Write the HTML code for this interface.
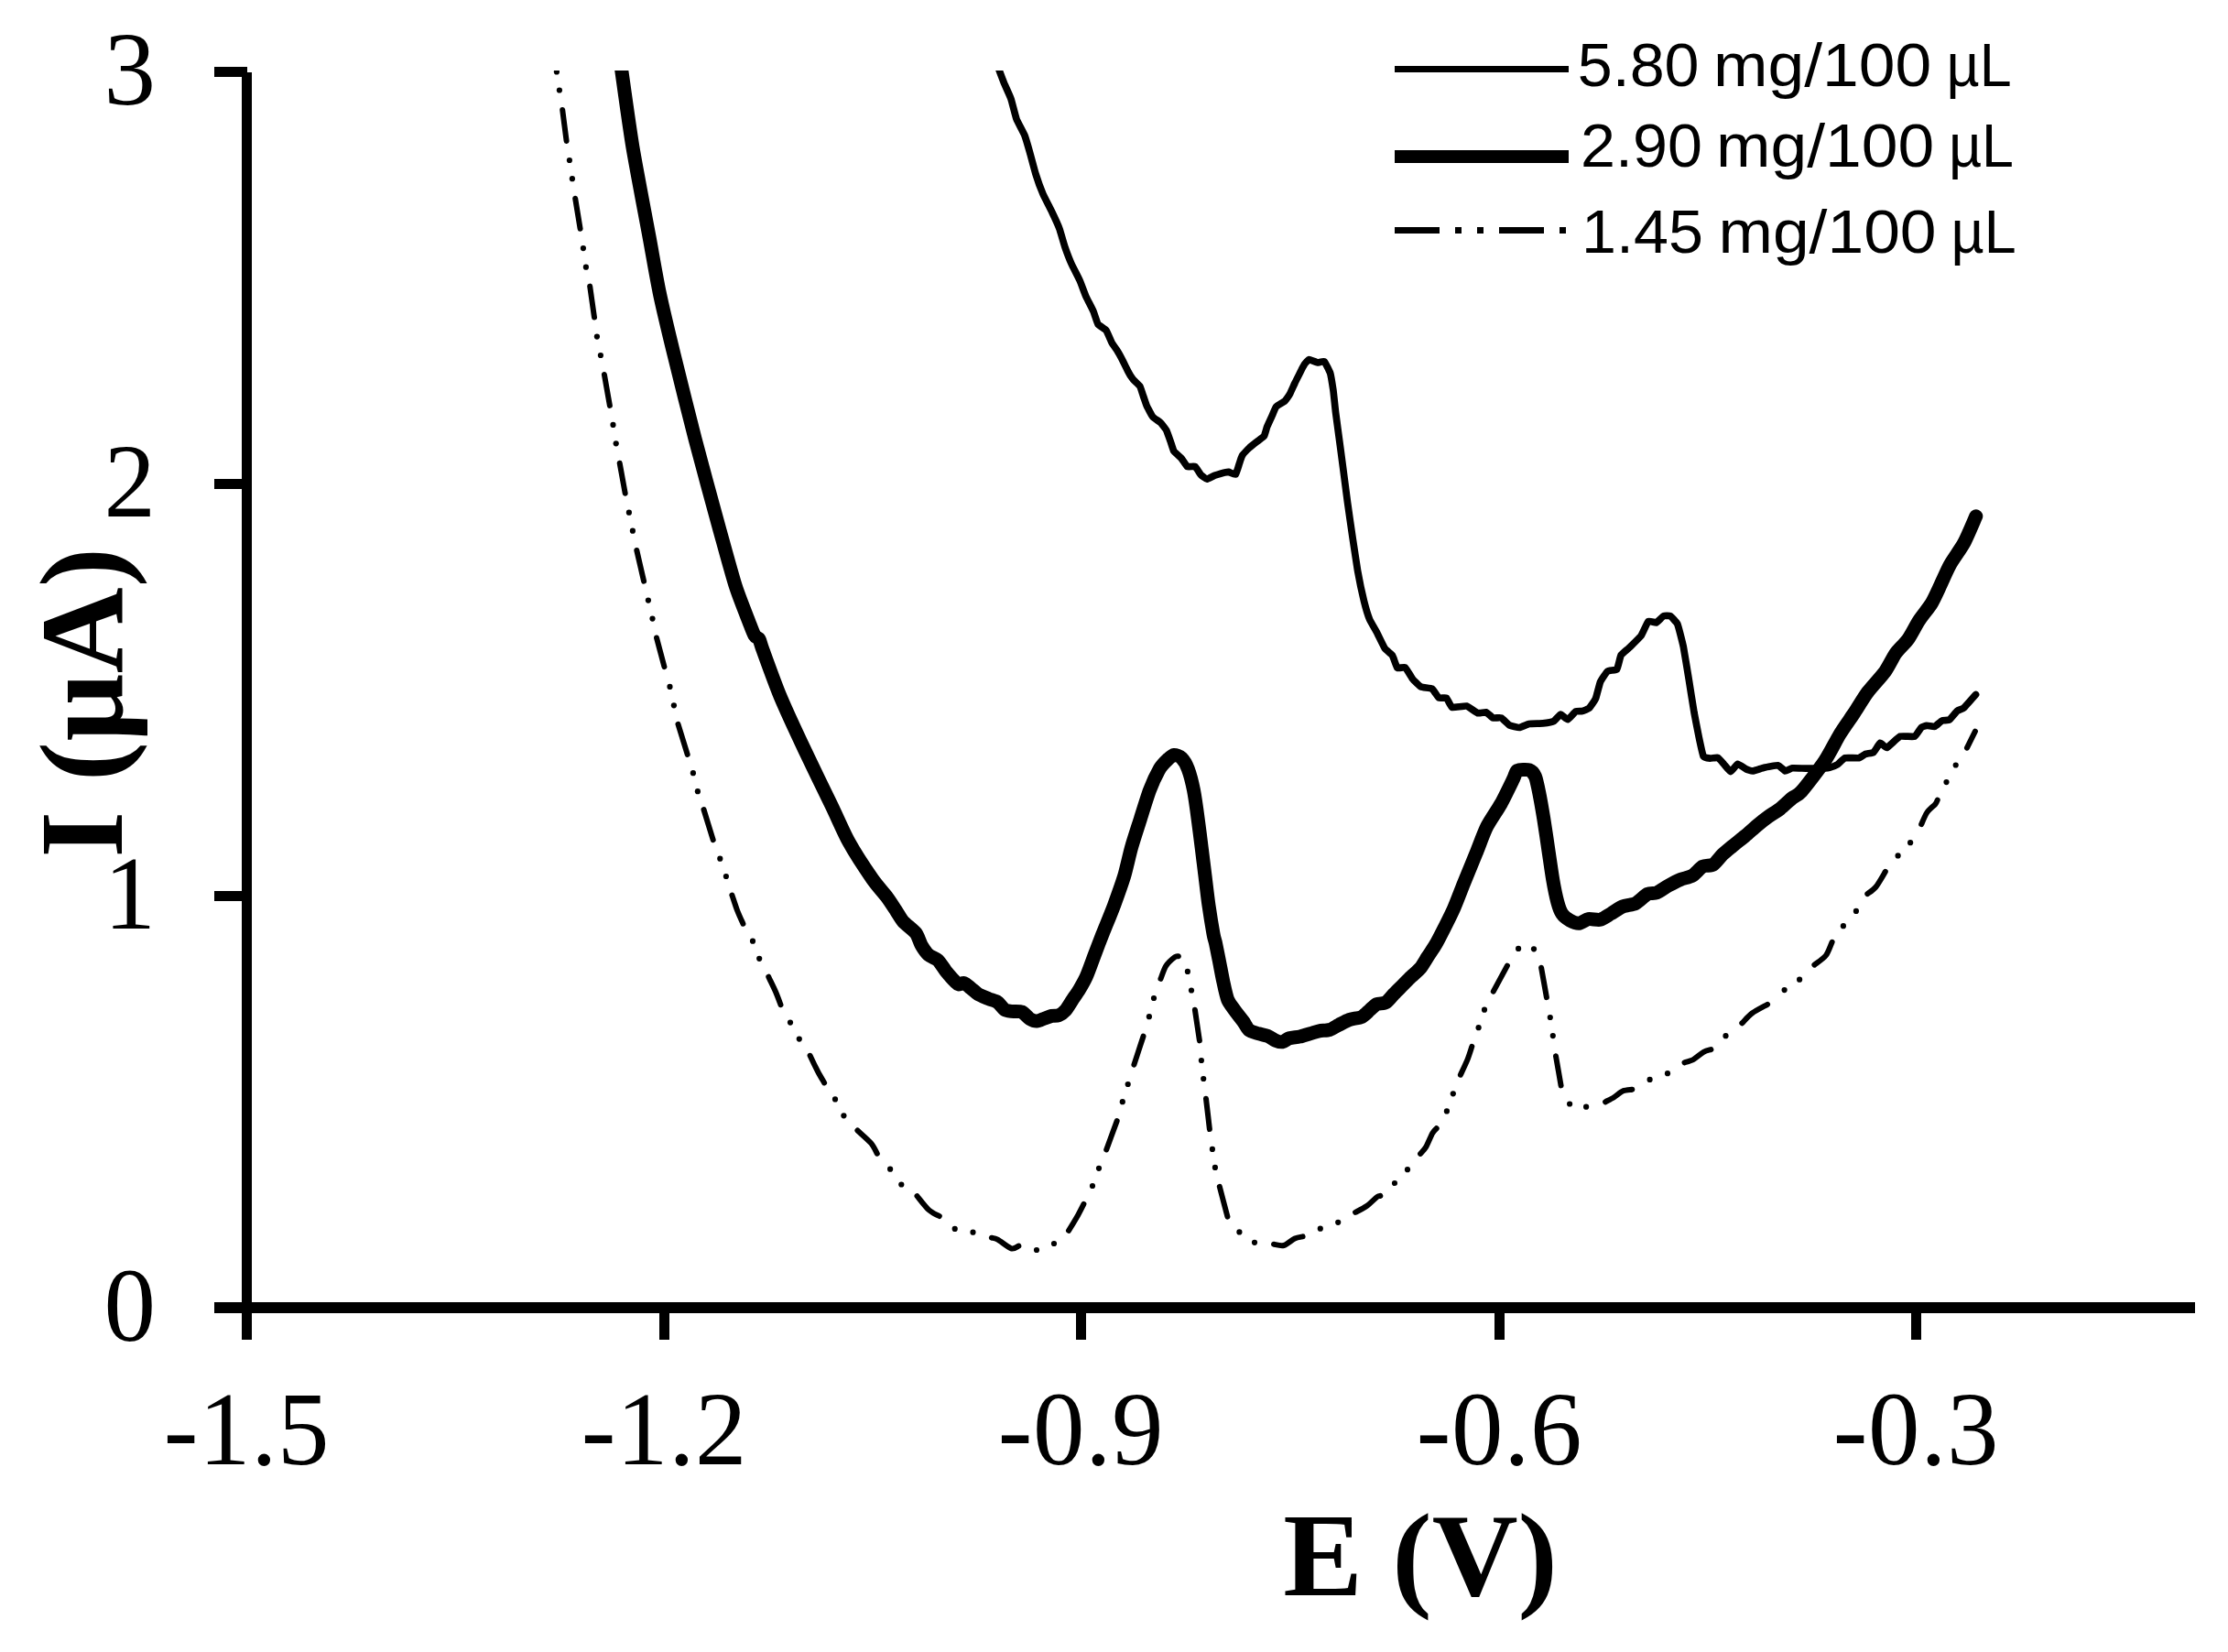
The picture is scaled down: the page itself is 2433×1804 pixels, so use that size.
<!DOCTYPE html>
<html lang="en"><head><meta charset="utf-8"><title>Voltammogram</title>
<style>html,body{margin:0;padding:0;background:#fff;overflow:hidden}svg{display:block}</style></head>
<body>
<svg width="2433" height="1804" viewBox="0 0 2433 1804">
<rect width="2433" height="1804" fill="#fff"/>
<defs><clipPath id="plot"><rect x="275" y="77" width="2150" height="1346"/></clipPath></defs>
<g stroke="#000" fill="none" stroke-linecap="butt" shape-rendering="crispEdges">
<line x1="269.5" y1="78.5" x2="269.5" y2="1463.0" stroke-width="11.0"/>
<line x1="234.0" y1="1428.0" x2="2396.6" y2="1428.0" stroke-width="12.0"/>
<line x1="234.0" y1="78.5" x2="270.0" y2="78.5" stroke-width="11"/>
<line x1="234.0" y1="528.5" x2="270.0" y2="528.5" stroke-width="11"/>
<line x1="234.0" y1="978.5" x2="270.0" y2="978.5" stroke-width="11"/>
<line x1="725.5" y1="1428.0" x2="725.5" y2="1463.0" stroke-width="11"/>
<line x1="1180.5" y1="1428.0" x2="1180.5" y2="1463.0" stroke-width="11"/>
<line x1="1637.5" y1="1428.0" x2="1637.5" y2="1463.0" stroke-width="11"/>
<line x1="2092.5" y1="1428.0" x2="2092.5" y2="1463.0" stroke-width="11"/>
</g>
<g font-family="'Liberation Serif', 'Times New Roman', serif" font-size="113" fill="#000">
<text transform="translate(170.0 114.0) scale(1 1.015)" text-anchor="end">3</text>
<text transform="translate(170.0 564.0) scale(1 1.015)" text-anchor="end">2</text>
<text transform="translate(170.0 1014.0) scale(1 1.015)" text-anchor="end">1</text>
<text transform="translate(170.0 1464.0) scale(1 1.015)" text-anchor="end">0</text>
<text transform="translate(269.5 1598.7) scale(1 1.015)" text-anchor="middle" letter-spacing="0.6">-1.5</text>
<text transform="translate(725.5 1598.7) scale(1 1.015)" text-anchor="middle" letter-spacing="0.6">-1.2</text>
<text transform="translate(1180.5 1598.7) scale(1 1.015)" text-anchor="middle" letter-spacing="0.6">-0.9</text>
<text transform="translate(1637.5 1598.7) scale(1 1.015)" text-anchor="middle" letter-spacing="0.6">-0.6</text>
<text transform="translate(2092.5 1598.7) scale(1 1.015)" text-anchor="middle" letter-spacing="0.6">-0.3</text>
</g>
<g font-family="'Liberation Serif', 'Times New Roman', serif" font-weight="bold" font-size="130" fill="#000">
<text x="1551" y="1741.8" text-anchor="middle">E (V)</text>
<text transform="translate(132.7 767.2) rotate(-90)" text-anchor="middle">I (µA)</text>
</g>
<g stroke="#000" fill="none" shape-rendering="crispEdges">
<line x1="1523" y1="75.5" x2="1713" y2="75.5" stroke-width="7"/>
<line x1="1523" y1="171" x2="1713" y2="171" stroke-width="14"/>
<path d="M1523 251.5H1572M1589 251.5h7M1613 251.5h7M1637 251.5H1686M1703 251.5h7" stroke-width="7"/>
</g>
<g font-family="'Liberation Sans', Arial, sans-serif" font-size="66" fill="#000">
<text y="93.8"><tspan x="1722.7" textLength="132.9" lengthAdjust="spacingAndGlyphs">5.80</tspan> <tspan x="1871.0" textLength="238.2" lengthAdjust="spacingAndGlyphs">mg/100</tspan> <tspan x="2125.6" textLength="71.1" lengthAdjust="spacingAndGlyphs">µL</tspan></text>
<text y="181.7"><tspan x="1726.0" textLength="132.9" lengthAdjust="spacingAndGlyphs">2.90</tspan> <tspan x="1874.0" textLength="238.2" lengthAdjust="spacingAndGlyphs">mg/100</tspan> <tspan x="2127.9" textLength="71.1" lengthAdjust="spacingAndGlyphs">µL</tspan></text>
<text y="275.9"><tspan x="1727.0" textLength="132.9" lengthAdjust="spacingAndGlyphs">1.45</tspan> <tspan x="1876.4" textLength="238.2" lengthAdjust="spacingAndGlyphs">mg/100</tspan> <tspan x="2130.5" textLength="71.1" lengthAdjust="spacingAndGlyphs">µL</tspan></text>
</g>
<g clip-path="url(#plot)" stroke="#000" fill="none" stroke-linejoin="round" stroke-linecap="round">
<path d="M677.8 70.0 C679.4 80.8 687.0 137.1 690.8 159.9 C694.6 182.7 705.7 240.5 709.2 259.7 C712.7 278.9 717.0 304.2 720.2 319.6 C723.4 335.0 731.5 368.8 736.2 388.0 C740.9 407.2 753.2 456.9 759.2 479.9 C765.2 502.9 780.9 560.5 786.2 579.7 C791.5 598.9 799.3 627.6 803.1 639.6 C806.9 651.6 815.6 673.1 818.1 679.6 C820.6 686.1 822.7 691.8 824.0 694.0 C825.3 696.2 827.9 696.1 829.0 698.0 C830.1 699.9 830.4 702.6 833.1 710.0 C835.8 717.4 846.3 746.7 851.8 759.9 C857.3 773.1 872.3 805.4 879.1 819.8 C885.9 834.2 902.3 867.7 908.1 879.7 C913.9 891.7 921.8 910.1 927.1 919.7 C932.4 929.3 947.5 952.4 952.5 959.6 C957.5 966.8 965.6 975.7 968.8 980.0 C972.0 984.3 976.8 991.9 978.9 995.1 C981.0 998.3 983.8 1003.5 986.4 1006.4 C989.0 1009.3 997.8 1015.8 1000.2 1019.0 C1002.6 1022.2 1004.8 1029.9 1006.5 1032.8 C1008.2 1035.7 1011.9 1040.9 1014.0 1042.8 C1016.1 1044.7 1021.8 1046.4 1024.1 1048.5 C1026.4 1050.6 1030.6 1057.6 1032.9 1060.4 C1035.2 1063.2 1041.2 1070.0 1042.9 1071.7 C1044.6 1073.4 1045.5 1074.7 1046.7 1074.9 C1047.9 1075.1 1051.3 1073.1 1053.0 1073.6 C1054.7 1074.1 1058.7 1077.9 1060.5 1079.3 C1062.3 1080.7 1065.8 1084.2 1068.1 1085.6 C1070.4 1087.0 1076.8 1089.5 1079.4 1090.6 C1082.0 1091.7 1087.3 1093.0 1089.4 1094.4 C1091.5 1095.8 1095.2 1101.3 1097.0 1102.5 C1098.8 1103.7 1102.2 1104.1 1104.5 1104.4 C1106.8 1104.7 1113.4 1104.0 1115.8 1105.0 C1118.2 1106.0 1122.6 1111.4 1124.6 1112.6 C1126.6 1113.8 1130.2 1115.2 1132.2 1115.1 C1134.2 1115.0 1139.0 1112.7 1141.0 1112.0 C1143.0 1111.3 1146.7 1109.8 1148.5 1109.4 C1150.3 1109.0 1154.2 1109.5 1156.0 1108.8 C1157.8 1108.1 1161.8 1105.2 1163.6 1103.2 C1165.4 1101.2 1169.3 1094.6 1171.1 1091.9 C1172.9 1089.2 1176.9 1083.5 1178.7 1080.5 C1180.5 1077.5 1184.2 1071.1 1186.2 1066.7 C1188.2 1062.3 1192.9 1049.1 1195.0 1043.5 C1197.1 1037.9 1201.3 1026.9 1203.9 1020.3 C1206.5 1013.7 1213.7 996.4 1216.5 988.8 C1219.3 981.2 1225.2 964.8 1227.5 957.3 C1229.8 949.8 1233.3 933.4 1235.4 925.9 C1237.5 918.4 1242.9 902.0 1245.3 894.4 C1247.7 886.8 1253.0 869.5 1255.5 862.9 C1258.0 856.3 1264.2 843.3 1266.5 839.3 C1268.8 835.3 1273.1 831.3 1275.0 829.5 C1276.9 827.7 1280.2 824.6 1282.0 824.4 C1283.8 824.2 1288.3 825.7 1290.1 827.5 C1291.9 829.3 1295.6 835.1 1297.2 839.3 C1298.8 843.5 1302.2 856.3 1303.5 862.9 C1304.8 869.5 1307.2 886.8 1308.2 894.4 C1309.2 902.0 1311.3 918.4 1312.2 925.9 C1313.1 933.4 1315.2 949.8 1316.1 957.3 C1317.0 964.8 1318.9 981.2 1320.0 988.8 C1321.1 996.4 1324.2 1015.4 1325.1 1020.3 C1326.0 1025.2 1326.8 1026.6 1327.5 1030.0 C1328.2 1033.4 1330.3 1043.9 1331.3 1048.9 C1332.3 1053.9 1334.6 1066.4 1335.7 1071.5 C1336.8 1076.6 1339.1 1087.7 1340.7 1091.6 C1342.3 1095.5 1346.9 1101.2 1348.9 1104.1 C1350.9 1107.0 1355.9 1113.0 1357.7 1115.5 C1359.5 1118.0 1362.0 1123.3 1364.0 1124.9 C1366.0 1126.5 1371.6 1127.9 1374.0 1128.7 C1376.4 1129.5 1381.8 1130.3 1384.1 1131.2 C1386.4 1132.1 1390.9 1135.4 1392.9 1136.2 C1394.9 1137.0 1398.6 1138.1 1400.4 1137.8 C1402.2 1137.5 1405.7 1134.4 1408.0 1133.7 C1410.3 1133.0 1416.6 1132.6 1419.3 1132.0 C1422.0 1131.4 1428.0 1129.4 1430.6 1128.7 C1433.2 1128.0 1438.0 1126.3 1440.6 1125.8 C1443.2 1125.3 1449.4 1125.3 1452.0 1124.5 C1454.6 1123.7 1459.4 1120.5 1462.0 1119.2 C1464.6 1117.9 1470.3 1114.7 1473.3 1113.6 C1476.3 1112.5 1484.4 1111.7 1487.1 1110.4 C1489.8 1109.1 1493.9 1104.6 1495.9 1102.9 C1497.9 1101.2 1501.4 1097.6 1503.5 1096.6 C1505.6 1095.6 1511.2 1096.1 1513.5 1094.7 C1515.8 1093.3 1520.2 1087.5 1522.3 1085.3 C1524.4 1083.1 1528.8 1078.8 1531.1 1076.5 C1533.4 1074.2 1538.8 1068.7 1541.2 1066.4 C1543.6 1064.1 1549.1 1059.6 1551.2 1057.0 C1553.3 1054.4 1557.0 1047.9 1558.8 1045.1 C1560.6 1042.3 1564.8 1036.2 1566.3 1033.8 C1567.8 1031.4 1568.9 1029.5 1571.4 1024.7 C1573.9 1019.9 1583.6 1000.9 1586.9 993.7 C1590.2 986.5 1595.5 972.0 1598.5 964.6 C1601.5 957.2 1609.0 939.1 1612.0 931.7 C1615.0 924.3 1620.4 909.2 1623.7 902.7 C1627.0 896.2 1635.7 883.8 1639.2 877.5 C1642.7 871.2 1650.6 854.7 1652.7 850.4 C1654.8 846.1 1654.9 842.6 1657.0 841.5 C1659.1 840.4 1667.7 840.1 1670.0 840.9 C1672.3 841.7 1675.2 845.0 1676.5 848.0 C1677.8 851.0 1679.7 860.5 1680.8 865.9 C1681.9 871.3 1684.3 885.1 1685.6 893.0 C1686.9 900.9 1690.2 923.7 1691.4 931.8 C1692.6 939.9 1694.6 954.1 1695.7 960.5 C1696.8 966.9 1699.6 980.5 1700.8 985.0 C1702.0 989.5 1704.2 995.5 1705.8 997.9 C1707.4 1000.3 1712.2 1003.9 1714.4 1005.1 C1716.6 1006.3 1722.1 1008.4 1724.5 1008.2 C1726.9 1008.0 1731.7 1004.1 1734.5 1003.6 C1737.3 1003.1 1744.6 1005.0 1747.5 1004.3 C1750.4 1003.6 1756.0 999.6 1758.9 997.9 C1761.8 996.2 1768.6 991.4 1771.9 990.0 C1775.2 988.6 1782.9 988.0 1786.2 986.4 C1789.5 984.8 1796.4 977.7 1799.2 976.3 C1802.0 974.9 1806.5 976.0 1809.2 974.9 C1811.9 973.8 1819.0 968.7 1822.1 967.0 C1825.2 965.3 1832.0 961.8 1835.1 960.5 C1838.2 959.2 1845.1 957.9 1848.0 956.2 C1850.9 954.5 1856.7 947.7 1859.5 946.2 C1862.3 944.7 1868.4 945.6 1871.0 944.0 C1873.6 942.4 1878.6 935.5 1881.0 933.2 C1883.4 930.9 1888.2 927.0 1891.1 924.6 C1894.0 922.2 1902.1 915.8 1905.4 913.1 C1908.7 910.4 1915.3 904.3 1918.4 901.7 C1921.5 899.1 1928.2 893.8 1931.3 891.6 C1934.4 889.4 1941.1 885.4 1944.2 883.0 C1947.3 880.6 1954.3 873.7 1957.1 871.5 C1959.9 869.3 1963.0 869.1 1967.2 864.3 C1971.4 859.5 1987.5 838.7 1992.5 831.2 C1997.5 823.7 2005.2 808.3 2009.0 802.0 C2012.8 795.7 2020.8 784.6 2024.5 779.0 C2028.2 773.4 2035.6 761.0 2039.7 755.6 C2043.8 750.2 2054.6 738.7 2058.3 733.6 C2062.0 728.5 2067.2 717.5 2070.2 713.2 C2073.2 708.9 2080.7 702.3 2083.7 698.0 C2086.7 693.7 2092.5 682.3 2095.6 677.6 C2098.7 672.9 2106.6 663.3 2109.2 659.0 C2111.8 654.7 2115.2 647.1 2117.6 642.0 C2120.0 636.9 2126.2 622.5 2129.5 616.6 C2132.8 610.7 2141.3 599.2 2144.7 592.9 C2148.1 586.6 2156.2 567.2 2157.8 563.7" stroke-width="15"/>
<path d="M1088.5 70.0 C1088.7 70.4 1090.9 76.1 1091.4 77.4 C1091.9 78.7 1096.2 90.2 1097.0 92.0 C1097.8 93.8 1103.2 105.7 1104.0 108.0 C1104.8 110.3 1109.1 127.6 1110.0 130.0 C1110.9 132.4 1118.1 145.7 1119.0 148.0 C1119.9 150.3 1124.3 165.5 1125.0 168.0 C1125.7 170.5 1130.2 187.4 1131.0 190.0 C1131.8 192.6 1137.9 209.5 1139.0 212.0 C1140.1 214.5 1147.9 229.7 1149.0 232.0 C1150.1 234.3 1156.2 247.7 1157.0 250.0 C1157.8 252.3 1162.2 267.7 1163.0 270.0 C1163.8 272.3 1169.0 285.8 1170.0 288.0 C1171.0 290.2 1178.0 303.8 1179.0 306.0 C1180.0 308.2 1185.1 322.0 1186.0 324.0 C1186.9 326.0 1193.2 338.2 1194.0 340.0 C1194.8 341.8 1198.2 352.8 1199.0 354.0 C1199.8 355.2 1207.1 359.5 1208.0 360.7 C1208.9 361.9 1213.3 372.7 1214.0 374.0 C1214.7 375.3 1219.2 381.7 1220.0 382.9 C1220.8 384.1 1225.8 393.4 1226.5 394.8 C1227.2 396.2 1231.2 404.3 1231.8 405.5 C1232.4 406.7 1236.4 413.2 1237.2 414.2 C1238.0 415.2 1244.1 420.6 1244.8 421.7 C1245.5 422.8 1248.0 431.2 1248.5 432.5 C1249.0 433.8 1251.7 441.9 1252.3 443.3 C1252.9 444.7 1257.9 454.0 1258.8 455.1 C1259.7 456.2 1266.5 460.7 1267.4 461.6 C1268.3 462.5 1273.3 469.0 1273.9 470.2 C1274.5 471.4 1277.7 480.6 1278.2 482.0 C1278.7 483.4 1281.2 491.7 1281.9 492.8 C1282.6 493.9 1289.1 499.3 1290.0 500.3 C1290.9 501.3 1295.6 508.9 1296.5 509.5 C1297.4 510.1 1304.2 508.9 1305.1 509.5 C1306.0 510.1 1310.8 517.9 1311.6 518.7 C1312.4 519.5 1317.1 523.2 1318.0 523.2 C1318.9 523.2 1325.4 519.6 1326.6 519.2 C1327.8 518.8 1336.5 516.2 1337.4 516.0 C1338.3 515.8 1341.0 515.3 1341.7 515.4 C1342.4 515.5 1348.6 518.7 1349.3 518.1 C1350.0 517.5 1353.1 507.0 1353.6 505.7 C1354.0 504.4 1356.2 498.1 1356.8 497.1 C1357.4 496.1 1363.3 489.9 1364.3 489.0 C1365.3 488.1 1372.0 482.8 1373.0 482.0 C1374.0 481.2 1379.9 477.1 1380.5 476.1 C1381.1 475.1 1383.2 467.2 1383.7 465.9 C1384.2 464.6 1388.5 455.3 1389.1 454.0 C1389.7 452.7 1392.6 445.3 1393.4 444.3 C1394.2 443.3 1402.2 438.7 1403.1 437.9 C1404.0 437.1 1407.9 431.5 1408.5 430.3 C1409.1 429.1 1413.2 420.0 1413.9 418.5 C1414.6 417.0 1419.8 406.8 1420.4 405.5 C1421.0 404.2 1424.2 398.3 1424.7 397.5 C1425.2 396.7 1428.7 392.7 1429.5 392.6 C1430.3 392.5 1437.7 395.8 1438.7 395.9 C1439.7 396.0 1445.4 394.1 1446.2 394.8 C1447.0 395.5 1452.1 405.8 1452.7 407.7 C1453.3 409.6 1455.5 423.4 1455.9 426.0 C1456.3 428.6 1458.1 446.9 1458.6 450.8 C1459.1 454.7 1463.1 484.4 1463.9 490.2 C1464.7 496.0 1470.6 541.7 1471.4 547.7 C1472.2 553.7 1476.8 585.6 1477.5 590.1 C1478.2 594.6 1481.9 619.4 1482.6 623.4 C1483.3 627.4 1488.8 653.5 1489.6 656.7 C1490.4 659.9 1494.8 674.4 1495.6 676.4 C1496.4 678.4 1502.2 688.1 1503.2 690.0 C1504.2 691.9 1511.3 706.7 1512.3 708.2 C1513.3 709.7 1519.7 714.4 1520.5 715.7 C1521.3 717.0 1525.1 728.6 1525.9 729.4 C1526.7 730.2 1533.4 728.1 1534.4 728.8 C1535.4 729.5 1541.6 740.2 1542.6 741.5 C1543.6 742.8 1550.4 749.4 1551.7 750.0 C1553.0 750.6 1562.6 751.4 1563.8 752.1 C1565.0 752.8 1570.4 761.5 1571.3 762.1 C1572.2 762.7 1578.6 761.5 1579.5 762.1 C1580.4 762.7 1584.3 771.9 1585.6 772.4 C1586.9 772.9 1599.9 770.7 1601.6 771.1 C1603.3 771.5 1612.4 778.3 1613.7 778.7 C1615.0 779.1 1621.8 777.5 1622.8 777.8 C1623.8 778.1 1629.4 783.5 1630.4 783.9 C1631.4 784.3 1638.4 783.4 1639.5 783.9 C1640.6 784.4 1647.3 791.4 1648.5 792.0 C1649.7 792.6 1657.8 794.6 1659.1 794.5 C1660.4 794.4 1668.2 790.8 1669.7 790.5 C1671.2 790.2 1683.3 790.1 1684.9 789.9 C1686.5 789.7 1695.6 788.1 1696.8 787.5 C1698.0 786.9 1703.3 780.3 1704.2 780.2 C1705.1 780.1 1711.0 785.9 1712.0 785.7 C1713.0 785.5 1719.7 777.5 1720.7 777.0 C1721.7 776.5 1727.0 776.8 1727.9 776.6 C1728.8 776.4 1734.3 774.2 1735.2 773.4 C1736.1 772.6 1741.8 764.5 1742.5 762.8 C1743.2 761.1 1746.8 746.4 1747.6 744.6 C1748.4 742.8 1754.4 733.8 1755.5 733.0 C1756.6 732.2 1764.8 731.8 1765.7 730.8 C1766.6 729.8 1769.3 716.9 1770.1 715.5 C1770.9 714.1 1777.5 708.9 1778.8 707.6 C1780.1 706.3 1790.6 696.2 1791.9 694.5 C1793.2 692.8 1798.9 679.4 1799.9 678.5 C1800.9 677.6 1807.6 680.3 1808.6 680.0 C1809.6 679.7 1815.7 673.1 1816.6 672.7 C1817.5 672.3 1822.9 672.2 1823.8 672.7 C1824.7 673.2 1830.9 679.4 1831.8 681.4 C1832.7 683.4 1837.7 703.2 1838.4 706.8 C1839.1 710.4 1843.5 737.4 1844.2 741.7 C1844.9 746.0 1849.3 774.2 1850.0 778.0 C1850.7 781.8 1854.5 801.3 1855.1 804.2 C1855.7 807.1 1859.5 824.6 1860.2 826.0 C1860.9 827.4 1866.4 828.0 1867.4 828.1 C1868.4 828.2 1875.2 827.0 1876.1 827.4 C1877.0 827.8 1881.9 833.8 1882.7 834.7 C1883.5 835.6 1889.0 842.7 1889.9 842.7 C1890.8 842.7 1896.6 834.4 1897.6 834.2 C1898.6 834.0 1905.6 839.3 1906.6 839.8 C1907.6 840.3 1912.7 842.0 1913.9 841.9 C1915.1 841.8 1924.7 838.7 1926.4 838.3 C1928.1 837.9 1940.3 835.6 1941.7 835.8 C1943.1 836.0 1948.4 841.7 1949.3 841.9 C1950.2 842.1 1956.0 839.0 1957.3 838.8 C1958.6 838.6 1970.1 839.1 1971.8 839.1 C1973.5 839.1 1984.7 839.3 1986.3 839.3 C1987.9 839.3 1996.7 838.6 1997.9 838.3 C1999.1 838.0 2005.7 835.3 2006.7 834.7 C2007.7 834.1 2013.3 828.1 2014.7 827.7 C2016.1 827.3 2028.6 828.0 2029.9 827.7 C2031.2 827.4 2036.2 823.8 2037.2 823.4 C2038.2 823.0 2044.9 822.3 2045.9 821.6 C2046.9 820.9 2052.3 811.5 2053.2 811.2 C2054.1 810.9 2059.1 816.9 2060.4 816.5 C2061.7 816.1 2073.1 804.9 2074.9 804.2 C2076.7 803.5 2089.5 804.8 2090.9 804.2 C2092.3 803.6 2097.4 795.0 2098.2 794.3 C2099.0 793.6 2103.1 792.4 2104.0 792.3 C2104.9 792.2 2111.7 793.6 2112.7 793.3 C2113.7 793.0 2119.7 787.4 2120.7 787.0 C2121.7 786.6 2127.7 786.6 2128.7 786.0 C2129.7 785.4 2136.4 777.1 2137.4 776.3 C2138.4 775.5 2143.5 774.0 2144.7 772.9 C2145.9 771.8 2156.7 759.4 2157.5 758.5" stroke-width="7.7"/>
<path d="M614.2 119.9 C614.8 125.0 618.0 148.8 618.6 153.9 M628.2 216.8 C629.0 221.7 632.8 244.8 633.6 249.7 M644.2 312.6 C644.9 317.7 648.3 341.5 649.0 346.6 M659.9 409.0 C660.8 414.1 665.0 437.8 665.9 442.9 M676.7 505.8 C677.6 510.7 681.8 533.9 682.7 538.8 M695.3 601.0 C696.5 606.1 701.9 629.6 703.1 634.7 M717.0 696.5 C718.3 701.3 724.1 723.3 725.4 728.1 M740.5 790.8 C742.0 795.8 749.2 818.9 750.7 823.9 M768.5 884.0 C770.0 889.0 777.2 912.2 778.7 917.2 M799.4 977.5 C800.3 980.0 803.2 989.3 805.0 994.0 C806.8 998.7 810.4 1006.5 811.4 1008.7 M839.3 1066.7 C840.4 1069.2 845.0 1078.4 847.0 1083.0 C849.0 1087.6 851.7 1095.1 852.5 1097.2 M884.6 1152.8 C885.8 1155.4 890.7 1165.6 893.0 1170.0 C895.3 1174.4 899.0 1180.5 900.1 1182.4 M936.4 1234.5 C938.6 1236.6 948.0 1244.6 951.2 1248.4 C954.4 1252.2 956.8 1258.0 957.8 1259.7 M1001.5 1306.1 C1003.4 1308.4 1010.8 1318.1 1014.4 1321.4 C1018.0 1324.7 1024.1 1327.0 1025.8 1328.0 M1082.9 1351.7 C1083.9 1352.0 1086.3 1351.9 1089.5 1353.6 C1092.7 1355.3 1100.8 1362.2 1104.2 1363.3 C1107.6 1364.4 1111.2 1361.0 1112.4 1360.6 M1167.0 1343.8 C1168.4 1341.6 1173.5 1333.4 1176.0 1329.0 C1178.5 1324.6 1182.3 1316.9 1183.4 1314.8 M1208.2 1255.5 C1209.9 1250.8 1218.0 1228.8 1219.7 1224.1 M1238.4 1162.6 C1239.9 1158.0 1247.0 1136.3 1248.5 1131.7 M1267.5 1068.8 C1268.4 1066.7 1270.9 1058.4 1273.2 1054.8 C1275.5 1051.2 1280.8 1046.7 1282.9 1045.1 C1285.0 1043.5 1286.3 1044.4 1286.9 1044.3 M1304.9 1102.8 C1305.6 1107.8 1309.2 1131.4 1309.9 1136.4 M1317.0 1199.8 C1317.6 1204.8 1320.3 1228.1 1320.9 1233.1 M1331.8 1295.8 C1333.1 1300.7 1339.1 1323.7 1340.4 1328.6 M1391.0 1358.7 C1392.6 1358.9 1398.5 1360.9 1401.9 1360.0 C1405.3 1359.1 1410.7 1353.9 1413.8 1352.5 C1416.9 1351.1 1421.2 1350.7 1422.6 1350.4 M1480.1 1323.9 C1482.0 1322.9 1488.9 1319.5 1492.4 1317.0 C1495.9 1314.5 1501.6 1308.7 1503.8 1307.0 C1506.0 1305.3 1506.8 1306.1 1507.3 1305.9 M1551.1 1259.9 C1552.0 1258.8 1555.1 1255.9 1557.1 1252.6 C1559.1 1249.3 1562.4 1240.7 1564.1 1237.7 C1565.8 1234.7 1568.0 1233.1 1568.7 1232.3 M1594.9 1173.7 C1596.1 1171.1 1600.7 1161.4 1602.6 1156.8 C1604.5 1152.2 1606.6 1145.0 1607.3 1142.9 M1630.8 1082.6 C1633.0 1078.4 1643.7 1058.8 1645.9 1054.6 M1683.1 1056.7 C1683.9 1061.5 1688.1 1084.3 1688.9 1089.1 M1699.0 1153.2 C1699.9 1158.0 1703.7 1180.6 1704.6 1185.4 M1753.1 1203.3 C1754.5 1202.5 1759.6 1200.0 1762.5 1198.2 C1765.4 1196.4 1769.4 1192.6 1772.4 1191.3 C1775.4 1190.0 1780.8 1190.0 1782.3 1189.7 M1839.5 1160.4 C1841.0 1159.9 1846.3 1158.5 1849.4 1156.8 C1852.5 1155.1 1857.4 1150.5 1860.3 1148.9 C1863.2 1147.3 1867.2 1146.5 1868.4 1146.1 M1902.3 1117.3 C1904.0 1115.7 1909.0 1109.6 1913.2 1106.5 C1917.4 1103.4 1927.5 1098.3 1930.1 1096.8 M1981.4 1053.6 C1983.2 1052.1 1990.9 1047.2 1993.8 1043.5 C1996.7 1039.8 1999.5 1031.0 2000.6 1028.8 M2039.3 976.1 C2040.7 975.0 2045.6 972.1 2048.5 968.5 C2051.4 964.9 2057.3 954.4 2058.8 951.9 M2098.2 900.1 C2099.1 898.1 2102.1 890.4 2104.4 887.1 C2106.7 883.8 2111.6 880.2 2113.3 878.2 C2115.0 876.2 2115.3 874.4 2115.7 873.7 M2148.0 816.7 C2149.3 814.0 2155.6 801.4 2156.9 798.7" stroke-width="6"/>
<g fill="#000" stroke="none">
<circle cx="607.9" cy="78.4" r="3.1"/>
<circle cx="610.9" cy="98.5" r="3.1"/>
<circle cx="621.9" cy="175.0" r="3.1"/>
<circle cx="624.9" cy="195.2" r="3.1"/>
<circle cx="636.9" cy="271.1" r="3.1"/>
<circle cx="639.9" cy="291.7" r="3.1"/>
<circle cx="651.9" cy="367.6" r="3.1"/>
<circle cx="655.9" cy="388.0" r="3.1"/>
<circle cx="669.5" cy="463.9" r="3.1"/>
<circle cx="672.7" cy="484.3" r="3.1"/>
<circle cx="686.9" cy="559.7" r="3.1"/>
<circle cx="690.9" cy="579.7" r="3.1"/>
<circle cx="707.9" cy="655.6" r="3.1"/>
<circle cx="712.5" cy="675.6" r="3.1"/>
<circle cx="731.5" cy="749.9" r="3.1"/>
<circle cx="735.9" cy="770.3" r="3.1"/>
<circle cx="756.9" cy="844.2" r="3.1"/>
<circle cx="761.9" cy="864.2" r="3.1"/>
<circle cx="786.3" cy="937.7" r="3.1"/>
<circle cx="792.9" cy="957.0" r="3.1"/>
<circle cx="822.0" cy="1027.7" r="3.1"/>
<circle cx="829.2" cy="1046.8" r="3.1"/>
<circle cx="863.0" cy="1116.6" r="3.1"/>
<circle cx="872.8" cy="1134.6" r="3.1"/>
<circle cx="912.0" cy="1200.4" r="3.1"/>
<circle cx="921.4" cy="1218.3" r="3.1"/>
<circle cx="972.1" cy="1276.7" r="3.1"/>
<circle cx="984.3" cy="1293.5" r="3.1"/>
<circle cx="1042.7" cy="1341.9" r="3.1"/>
<circle cx="1062.5" cy="1345.7" r="3.1"/>
<circle cx="1132.0" cy="1365.0" r="3.1"/>
<circle cx="1151.0" cy="1358.0" r="3.1"/>
<circle cx="1193.0" cy="1295.0" r="3.1"/>
<circle cx="1200.0" cy="1275.8" r="3.1"/>
<circle cx="1225.8" cy="1203.2" r="3.1"/>
<circle cx="1231.7" cy="1184.0" r="3.1"/>
<circle cx="1254.9" cy="1110.2" r="3.1"/>
<circle cx="1260.0" cy="1090.0" r="3.1"/>
<circle cx="1296.9" cy="1060.9" r="3.1"/>
<circle cx="1301.0" cy="1081.5" r="3.1"/>
<circle cx="1311.9" cy="1158.0" r="3.1"/>
<circle cx="1314.2" cy="1178.0" r="3.1"/>
<circle cx="1323.9" cy="1254.9" r="3.1"/>
<circle cx="1326.9" cy="1274.9" r="3.1"/>
<circle cx="1353.4" cy="1345.4" r="3.1"/>
<circle cx="1370.0" cy="1356.8" r="3.1"/>
<circle cx="1441.8" cy="1341.7" r="3.1"/>
<circle cx="1461.2" cy="1334.8" r="3.1"/>
<circle cx="1523.0" cy="1292.0" r="3.1"/>
<circle cx="1537.0" cy="1277.2" r="3.1"/>
<circle cx="1579.9" cy="1213.4" r="3.1"/>
<circle cx="1586.8" cy="1194.3" r="3.1"/>
<circle cx="1614.6" cy="1122.2" r="3.1"/>
<circle cx="1621.0" cy="1102.7" r="3.1"/>
<circle cx="1658.1" cy="1035.9" r="3.1"/>
<circle cx="1675.0" cy="1036.3" r="3.1"/>
<circle cx="1692.8" cy="1111.0" r="3.1"/>
<circle cx="1695.8" cy="1131.1" r="3.1"/>
<circle cx="1714.1" cy="1205.5" r="3.1"/>
<circle cx="1732.1" cy="1208.7" r="3.1"/>
<circle cx="1801.6" cy="1178.9" r="3.1"/>
<circle cx="1821.0" cy="1172.2" r="3.1"/>
<circle cx="1884.5" cy="1131.2" r="3.1"/>
<circle cx="1948.6" cy="1081.1" r="3.1"/>
<circle cx="1965.1" cy="1069.7" r="3.1"/>
<circle cx="2012.9" cy="1011.2" r="3.1"/>
<circle cx="2026.9" cy="994.9" r="3.1"/>
<circle cx="2072.6" cy="934.4" r="3.1"/>
<circle cx="2086.1" cy="920.2" r="3.1"/>
<circle cx="2125.5" cy="854.1" r="3.1"/>
<circle cx="2135.7" cy="835.5" r="3.1"/>
</g></g>
</svg>
</body></html>
